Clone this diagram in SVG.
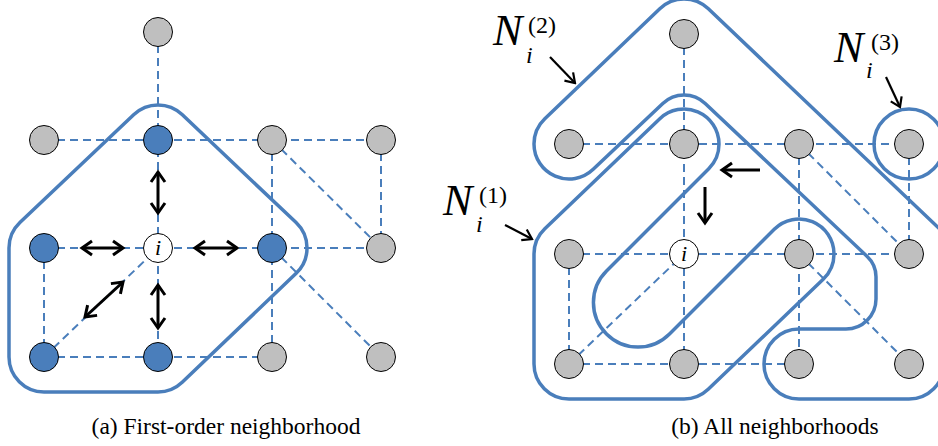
<svg xmlns="http://www.w3.org/2000/svg" width="938" height="446" viewBox="0 0 938 446">
<style>
.bg{fill:#fff}
.e{stroke:#4a7ebb;stroke-width:2;stroke-dasharray:8 5;fill:none}
.c{stroke:#4a7ebb;stroke-width:3.5;fill:none;stroke-linejoin:round}
.g{fill:#bfbfbf;stroke:#000;stroke-width:1}
.b{fill:#4a7ebb;stroke:#000;stroke-width:1}
.w{fill:#fff;stroke:#000;stroke-width:1}
.a2{stroke:#000;stroke-width:3;fill:none;marker-start:url(#ah);marker-end:url(#ah)}
.a1{stroke:#000;stroke-width:3;fill:none;marker-end:url(#ah)}
.al{stroke:#000;stroke-width:2.2;fill:none;marker-end:url(#ahs)}
.it{font-family:"Liberation Serif","Times New Roman",serif;font-style:italic;fill:#000}
.rm{font-family:"Liberation Serif","Times New Roman",serif;fill:#000}
.cap{font-family:"Liberation Serif","Times New Roman",serif;font-size:23.5px;fill:#000;text-anchor:middle}
</style>
<defs>
<marker id="ah" viewBox="-16 -10 20 20" refX="0" refY="0" markerWidth="20" markerHeight="20" markerUnits="userSpaceOnUse" orient="auto-start-reverse">
<path d="M-10,-7 L0,0 L-10,7" fill="none" stroke="#000" stroke-width="3"/>
</marker>
<marker id="ahs" viewBox="-14 -8 16 16" refX="0" refY="0" markerWidth="16" markerHeight="16" markerUnits="userSpaceOnUse" orient="auto">
<path d="M-9,-6 L0,0 L-9,6" fill="none" stroke="#000" stroke-width="2.2"/>
</marker>
</defs>
<rect class="bg" x="0" y="0" width="938" height="446"/>

<g id="connectors">
<!-- left panel edges -->
<line class="e" x1="158" y1="32" x2="158" y2="357"/>
<line class="e" x1="44" y1="140" x2="381" y2="140"/>
<line class="e" x1="44" y1="248" x2="381" y2="248"/>
<line class="e" x1="44" y1="357" x2="272" y2="357"/>
<line class="e" x1="44" y1="248" x2="44" y2="357"/>
<line class="e" x1="272" y1="140" x2="272" y2="357"/>
<line class="e" x1="381" y1="140" x2="381" y2="248"/>
<line class="e" x1="272" y1="140" x2="381" y2="248"/>
<line class="e" x1="272" y1="248" x2="381" y2="357"/>
<line class="e" x1="44" y1="357" x2="158" y2="248"/>
<!-- right panel edges -->
<line class="e" x1="684" y1="34" x2="684" y2="364"/>
<line class="e" x1="569" y1="144" x2="909" y2="144"/>
<line class="e" x1="569" y1="254" x2="909" y2="254"/>
<line class="e" x1="569" y1="364" x2="799" y2="364"/>
<line class="e" x1="569" y1="254" x2="569" y2="364"/>
<line class="e" x1="799" y1="144" x2="799" y2="364"/>
<line class="e" x1="909" y1="144" x2="909" y2="254"/>
<line class="e" x1="799" y1="144" x2="909" y2="254"/>
<line class="e" x1="799" y1="254" x2="909" y2="364"/>
<line class="e" x1="569" y1="364" x2="684" y2="254"/>
</g>

<g id="neighborhoods">
<path id="n1-left" class="c" d="M9,357 L9,248 A35,35 0 0 1 19.9,222.6 L133.9,114.6 A35,35 0 0 1 182.1,114.6 L296.1,222.6 A35,35 0 0 1 296.2,273.3 L182.2,382.3 A35,35 0 0 1 158,392 L44,392 A35,35 0 0 1 9,357 Z"/>
<path id="n1-right" class="c" d="M534,364 L534,254 A35,35 0 0 1 544.8,228.7 L659.8,118.7 A35,35 0 0 1 719,144 A35,35 0 0 1 708.75,168.75 L606.5,271 A44.5,44.5 0 0 0 606.5,334 A44.5,44.5 0 0 0 669.5,334 L774.25,229.25 A35,35 0 0 1 834,254 A35,35 0 0 1 823.2,279.3 L708.2,389.3 A35,35 0 0 1 684,399 L569,399 A35,35 0 0 1 534,364 Z"/>
<path id="n2-right" class="c" d="M534,144 A35,35 0 0 1 544.8,118.7 L659.8,8.7 A35,35 0 0 1 708.1,8.6 L944,233 L944,364 A35,35 0 0 1 909,399 L799,399 A35,35 0 0 1 764,364 A35,35 0 0 1 799,329 L846,329 A30,30 0 0 0 876,299 L876,277 A28,28 0 0 0 867.2,256.4 L705.2,103.5 A30.7,30.7 0 0 0 662.8,103.5 L593.2,169.3 A35,35 0 0 1 534,144 Z"/>
<circle id="n3-right" class="c" cx="909" cy="144" r="35"/>
</g>

<g id="arrows">
<line class="a2" x1="158" y1="172" x2="158" y2="213"/>
<line class="a2" x1="158" y1="285" x2="158" y2="328"/>
<line class="a2" x1="82" y1="248" x2="123" y2="248"/>
<line class="a2" x1="195" y1="248" x2="237" y2="248"/>
<line class="a2" x1="85" y1="317" x2="123" y2="282"/>
<line class="a1" x1="760" y1="170" x2="722" y2="170"/>
<line class="a1" x1="705" y1="187" x2="705" y2="223"/>
<line class="al" x1="550" y1="57" x2="575" y2="83"/>
<line class="al" x1="886" y1="77" x2="900" y2="107"/>
<line class="al" x1="505" y1="225" x2="532" y2="239"/>
</g>

<!-- left panel nodes -->
<g id="L-top"><circle class="g" cx="158" cy="32" r="14.5"/></g>
<g id="L-r1c1"><circle class="g" cx="44" cy="140" r="14.5"/></g>
<g id="L-r1c2"><circle class="b" cx="158" cy="140" r="14.5"/></g>
<g id="L-r1c3"><circle class="g" cx="272" cy="140" r="14.5"/></g>
<g id="L-r1c4"><circle class="g" cx="381" cy="140" r="14.5"/></g>
<g id="L-r2c1"><circle class="b" cx="44" cy="248" r="14.5"/></g>
<g id="L-i"><circle class="w" cx="158" cy="248" r="14.5"/><text class="it" x="158" y="255" font-size="22" text-anchor="middle">i</text></g>
<g id="L-r2c3"><circle class="b" cx="272" cy="248" r="14.5"/></g>
<g id="L-r2c4"><circle class="g" cx="381" cy="248" r="14.5"/></g>
<g id="L-r3c1"><circle class="b" cx="44" cy="357" r="14.5"/></g>
<g id="L-r3c2"><circle class="b" cx="158" cy="357" r="14.5"/></g>
<g id="L-r3c3"><circle class="g" cx="272" cy="357" r="14.5"/></g>
<g id="L-r3c4"><circle class="g" cx="381" cy="357" r="14.5"/></g>

<!-- right panel nodes -->
<g id="R-top"><circle class="g" cx="684" cy="34" r="14.5"/></g>
<g id="R-r1c1"><circle class="g" cx="569" cy="144" r="14.5"/></g>
<g id="R-r1c2"><circle class="g" cx="684" cy="144" r="14.5"/></g>
<g id="R-r1c3"><circle class="g" cx="799" cy="144" r="14.5"/></g>
<g id="R-r1c4"><circle class="g" cx="909" cy="144" r="14.5"/></g>
<g id="R-r2c1"><circle class="g" cx="569" cy="254" r="14.5"/></g>
<g id="R-i"><circle class="w" cx="684" cy="254" r="14.5"/><text class="it" x="684" y="261" font-size="22" text-anchor="middle">i</text></g>
<g id="R-r2c3"><circle class="g" cx="799" cy="254" r="14.5"/></g>
<g id="R-r2c4"><circle class="g" cx="909" cy="254" r="14.5"/></g>
<g id="R-r3c1"><circle class="g" cx="569" cy="364" r="14.5"/></g>
<g id="R-r3c2"><circle class="g" cx="684" cy="364" r="14.5"/></g>
<g id="R-r3c3"><circle class="g" cx="799" cy="364" r="14.5"/></g>
<g id="R-r3c4"><circle class="g" cx="909" cy="364" r="14.5"/></g>

<g id="labels">
<text class="it" x="493" y="45" font-size="44">N</text>
<text class="rm" x="528" y="33" font-size="24">(2)</text>
<text class="it" x="526" y="63" font-size="24">i</text>
<text class="it" x="834" y="62" font-size="44">N</text>
<text class="rm" x="871" y="50" font-size="24">(3)</text>
<text class="it" x="866" y="78" font-size="24">i</text>
<text class="it" x="443" y="215" font-size="44">N</text>
<text class="rm" x="479" y="203" font-size="24">(1)</text>
<text class="it" x="476" y="232" font-size="24">i</text>
</g>

<g id="captions">
<text class="cap" x="226" y="434">(a) First-order neighborhood</text>
<text class="cap" x="775" y="434">(b) All neighborhoods</text>
</g>
</svg>
